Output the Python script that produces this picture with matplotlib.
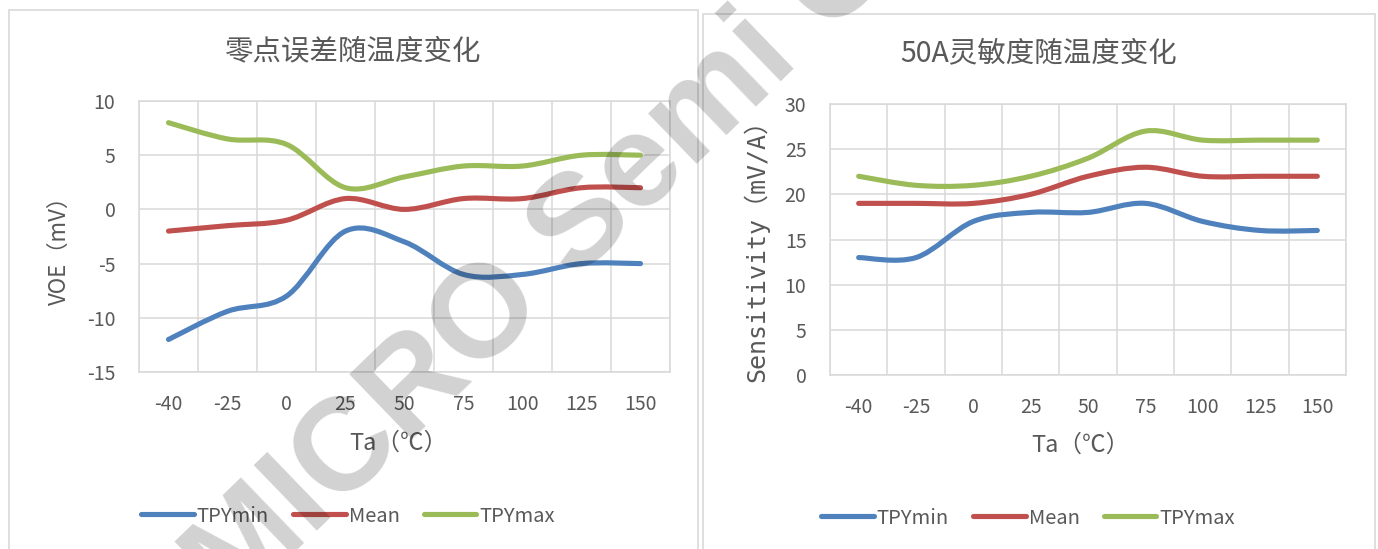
import numpy as np
import matplotlib
matplotlib.use('Agg')
import matplotlib.pyplot as plt
from matplotlib.path import Path
from matplotlib.patches import PathPatch, Rectangle
from matplotlib.lines import Line2D

plt.rcParams['font.family'] = ['Noto Sans CJK SC', 'DejaVu Sans']
plt.rcParams['axes.unicode_minus'] = False

# data
temps = ['-40', '-25', '0', '25', '50', '75', '100', '125', '150']
series_names = ['TPYmin', 'Mean', 'TPYmax']

voe_min = [-12, -9.4, -8, -2, -3, -6, -6, -5, -5]
voe_mean = [-2, -1.5, -1, 1, 0, 1, 1, 2, 2]
voe_max = [8, 6.5, 6, 2, 3, 4, 4, 5, 5]

sens_min = [13, 13, 17, 18, 18, 19, 17, 16, 16]
sens_mean = [19, 19, 19, 20, 22, 23, 22, 22, 22]
sens_max = [22, 21, 21, 22, 24, 27, 26, 26, 26]

colors = ['#4f81bd', '#c0504d', '#9bbb59']
grid_c = '#d9d9d9'
text_c = '#595959'
W, H = 1378, 549


def smooth_path(x, y):
    # Excel-style smoothed line: cubic bezier through every point
    pts = np.column_stack([x, y]).astype(float)
    n = len(pts)
    verts = [pts[0]]
    codes = [Path.MOVETO]
    for i in range(n - 1):
        p0 = pts[max(i - 1, 0)]
        p1, p2 = pts[i], pts[i + 1]
        p3 = pts[min(i + 2, n - 1)]
        verts += [p1 + (p2 - p0) / 6, p2 - (p3 - p1) / 6, p2]
        codes += [Path.CURVE4] * 3
    return Path(verts, codes)


def fx(px):
    return px / W


def fy(py):
    return 1 - py / H


def draw_chart(rect, series, ylim, yticks):
    ax = fig.add_axes(rect)
    x = np.arange(len(temps))
    for vals, c in zip(series, colors):
        ax.add_patch(PathPatch(smooth_path(x, vals), fill=False, edgecolor=c,
                               lw=3.7, capstyle='round', joinstyle='round', zorder=3))
    ax.set_xlim(-0.5, len(temps) - 0.5)
    ax.set_ylim(*ylim)
    ax.set_xticks(x)
    ax.set_xticklabels(temps)
    ax.set_xticks(np.arange(-0.5, len(temps)), minor=True)
    ax.set_yticks(yticks)
    ax.grid(which='minor', axis='x', color=grid_c, lw=1.1)
    ax.grid(which='major', axis='y', color=grid_c, lw=1.1)
    ax.set_axisbelow(True)
    ax.tick_params(which='both', length=0, labelsize=14, labelcolor=text_c)
    ax.tick_params(axis='x', pad=16)
    ax.tick_params(axis='y', pad=17)
    for s in ax.spines.values():
        s.set_color(grid_c)
        s.set_linewidth(1.1)
    return ax


fig = plt.figure(figsize=(W / 100, H / 100), dpi=100)

# chart area frames
fig.patches.append(Rectangle((fx(9), fy(560)), fx(689), fy(10) - fy(560), transform=fig.transFigure,
                             fill=False, edgecolor=grid_c, lw=1.2))
fig.patches.append(Rectangle((fx(703), fy(560)), fx(672), fy(14) - fy(560), transform=fig.transFigure,
                             fill=False, edgecolor=grid_c, lw=1.2))

ax1 = draw_chart([fx(139), fy(372), fx(531), fy(101) - fy(372)],
                 [voe_min, voe_mean, voe_max], (-15, 10), range(-15, 11, 5))
ax2 = draw_chart([fx(830), fy(375), fx(516), fy(104) - fy(375)],
                 [sens_min, sens_mean, sens_max], (0, 30), range(0, 31, 5))

# titles and axis labels
fig.text(fx(353), fy(51), '零点误差随温度变化', fontsize=20.5, color=text_c, ha='center', va='center')
fig.text(fx(1039), fy(53), '50A灵敏度随温度变化', fontsize=20.5, color=text_c, ha='center', va='center')
fig.text(fx(59), fy(245), 'VOE（mV）', fontsize=16, color=text_c, rotation=90, ha='center', va='center')
fig.text(fx(756), fy(244), 'Sensitivity（mV/A）', fontsize=18, color=text_c, rotation=90,
         ha='center', va='center', family=['DejaVu Sans Mono', 'Noto Sans CJK SC'])
fig.text(fx(398), fy(443), 'Ta（℃）', fontsize=17, color=text_c, ha='center', va='center')
fig.text(fx(1080), fy(445), 'Ta（℃）', fontsize=17, color=text_c, ha='center', va='center')

# legends
handles = [Line2D([], [], color=c, lw=3.7, solid_capstyle='round') for c in colors]
for cx, cy in [(348, 516), (1028, 518)]:
    fig.legend(handles, series_names, loc='center', bbox_to_anchor=(fx(cx), fy(cy)), ncol=3,
               frameon=False, fontsize=14.5, labelcolor=text_c, handlelength=2.6,
               handletextpad=0.15, columnspacing=1.2)

# watermark
fig.text(fx(105), fy(735), 'SEMICRO Semi Co', fontsize=95, family='Liberation Sans',
         fontweight='bold', color='k', alpha=0.18, rotation=44, rotation_mode='anchor',
         ha='left', va='baseline', zorder=10)

fig.savefig('out.png', dpi=100)
